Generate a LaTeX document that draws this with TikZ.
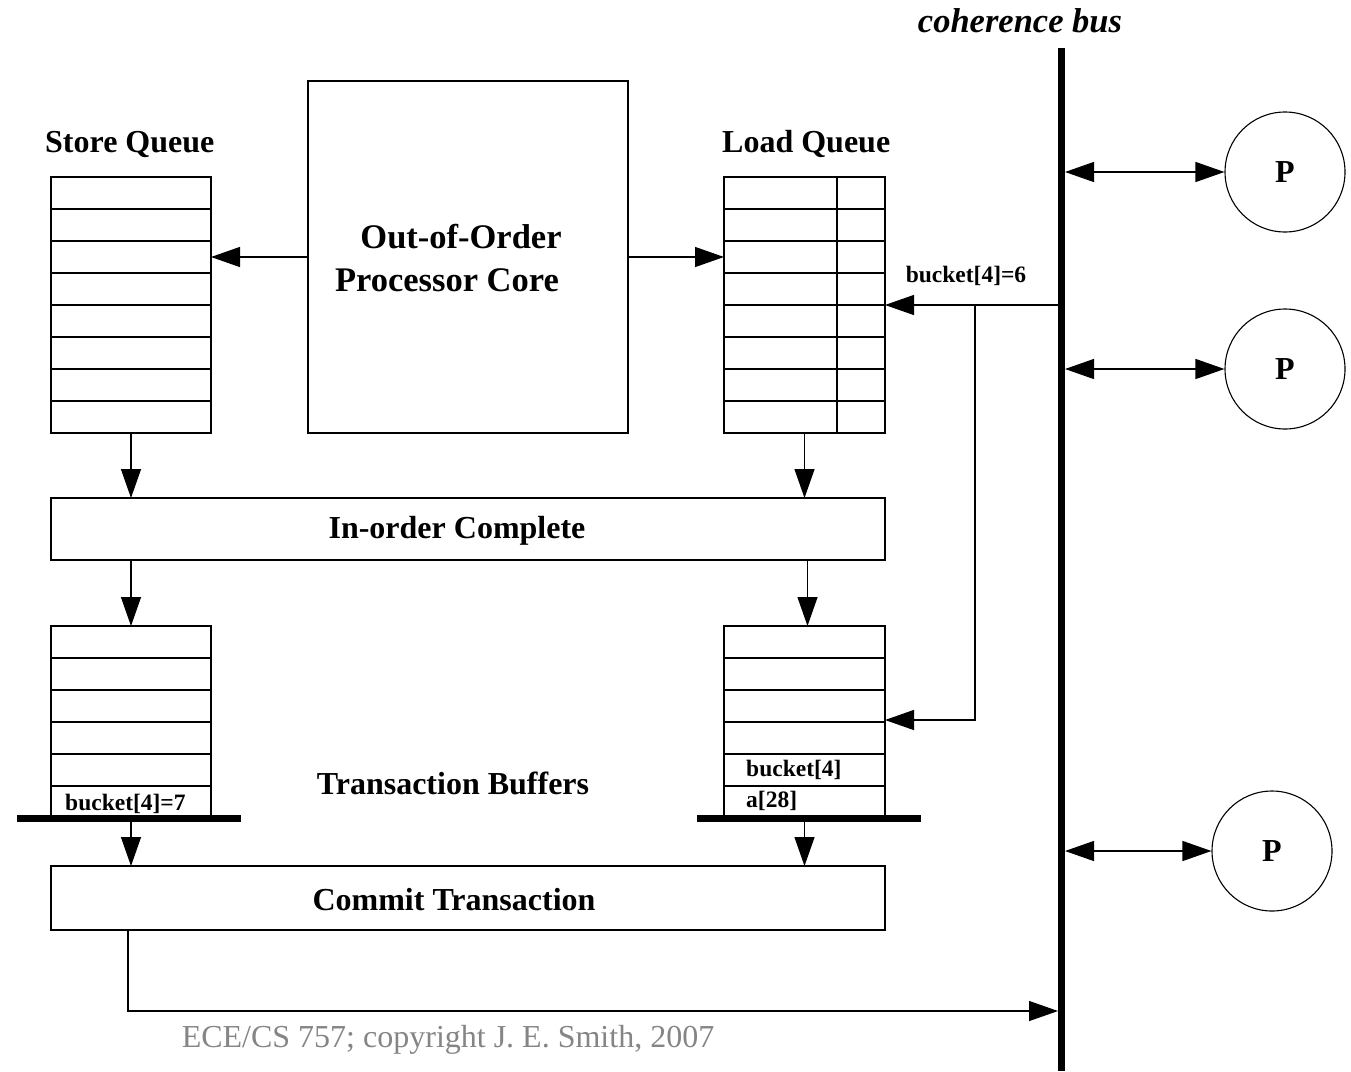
\documentclass[tikz,border=0pt]{standalone}
\usepackage{fontspec}
\setmainfont{Liberation Serif}
\usetikzlibrary{arrows.meta}
\begin{document}
\begin{tikzpicture}[x=1pt,y=-1pt,
  box/.style={draw, line width=1.3pt, inner sep=0pt, outer sep=0pt, anchor=north west, rectangle},
  row/.style={line width=1.3pt},
  arr/.style={-{Triangle[length=29pt,width=20pt]}, line width=1.3pt},
  darr/.style={{Triangle[length=29pt,width=20pt]}-{Triangle[length=29pt,width=20pt]}, line width=1.3pt},
  bar/.style={line width=7pt},
  big/.style={font=\bfseries\fontsize{32}{38}\selectfont, inner sep=0pt},
  core/.style={font=\bfseries\fontsize{34.5}{43}\selectfont, inner sep=0pt, align=center},
  small/.style={font=\bfseries\fontsize{23.5}{28}\selectfont, inner sep=0pt},
  proc/.style={draw, circle, line width=1.1pt, minimum size=120pt, inner sep=0pt, font=\bfseries\fontsize{32}{38}\selectfont},
]
\useasboundingbox (0,0) rectangle (1351,1071);

% titles
\node[font=\bfseries\itshape\fontsize{34.5}{40}\selectfont, inner sep=0pt] (bustitle) at (1020,21) {coherence bus};
\node[big, anchor=base west] (sqt) at (45,152) {Store Queue};
\node[big, anchor=base west] (lqt) at (722,152) {Load Queue};

% core
\node[box, minimum width=320pt, minimum height=352pt] (core) at (308,81) {};
\node[core] (coretxt) at (454,258) {\hspace*{14pt}Out-of-Order\\Processor Core\hspace*{14pt}};

% store queue
\node[box, minimum width=160pt, minimum height=256pt] (sq) at (51,177) {};
\foreach \y in {209,241,273,305,337,369,401} \draw[row] (51,\y) -- (211,\y);

% load queue
\node[box, minimum width=161pt, minimum height=256pt] (lq) at (724,177) {};
\foreach \y in {209,241,273,305,337,369,401} \draw[row] (724,\y) -- (885,\y);
\draw[row] (837,177) -- (837,433);

% in-order complete
\node[box, minimum width=834pt, minimum height=62pt] (ioc) at (51,498) {};
\node[big] (ioctxt) at (457,531) {In-order Complete};

% transaction buffers
\node[box, minimum width=160pt, minimum height=192pt] (tbl) at (51,626) {};
\foreach \y in {658,690,722,754,786} \draw[row] (51,\y) -- (211,\y);
\node[box, minimum width=161pt, minimum height=192pt] (tbr) at (724,626) {};
\foreach \y in {658,690,722,754,786} \draw[row] (724,\y) -- (885,\y);
\node[small, anchor=base west] (b7) at (65,810) {bucket[4]=7};
\node[small, anchor=base west] (b4) at (746,776) {bucket[4]};
\node[small, anchor=base west] (a28) at (746,807) {a[28]};
\node[big] (tbtxt) at (453,783) {Transaction Buffers};
\coordinate (barlA) at (17,818); \coordinate (barlB) at (241,818);
\coordinate (barrA) at (697,818); \coordinate (barrB) at (921,818);
\draw[bar] (barlA) -- (barlB);
\draw[bar] (barrA) -- (barrB);

% commit
\node[box, minimum width=834pt, minimum height=64pt] (cmt) at (51,866) {};
\node[big] (cmttxt) at (454,900) {Commit Transaction};

% bus
\coordinate (busT) at (1061,48);
\coordinate (busB) at (1061,1071);
\draw[line width=7pt] (busT) -- (busB);

% processors
\node[proc] (p1) at (1285,172) {P};
\node[proc] (p2) at (1285,369) {P};
\node[proc] (p3) at (1272,851) {P};
\coordinate (bp1) at (1065,172);
\coordinate (bp2) at (1065,369);
\coordinate (bp3) at (1065,851);
\draw[darr] (bp1) -- (p1.west);
\draw[darr] (bp2) -- (p2.west);
\draw[darr] (bp3) -- (p3.west);

% core to queues
\draw[arr] (core.west) -- (core.west -| sq.east);
\draw[arr] (core.east) -- (core.east -| lq.west);

% bucket broadcast
\coordinate (bsrc) at (1058,305);
\coordinate (bsplit) at (975,305);
\coordinate (bdown) at (975,720);
\node[small, anchor=base] (b6) at (966,282) {bucket[4]=6};
\draw[arr] (bsrc) -- (lq.east);
\draw[arr] (bsplit) -- (bdown) -- (bdown -| tbr.east);

% vertical flow
\draw[arr] (sq.south) -- (sq.south |- ioc.north);
\draw[arr] (lq.south) -- (lq.south |- ioc.north);
\draw[arr] (ioc.south -| sq.south) -- (tbl.north);
\draw[arr] ([xshift=3pt]ioc.south -| tbr.south) -- ([xshift=3pt]tbr.north);
\draw[arr] ([yshift=3.5pt]barlA -| sq.south) -- (cmt.north -| sq.south);
\draw[arr] ([yshift=3.5pt]barrA -| tbr.south) -- (cmt.north -| tbr.south);

% commit to bus
\coordinate (cstart) at (128,930);
\coordinate (cbus) at (1058,1011);
\draw[arr] (cstart) |- (cbus);

\node[font=\fontsize{32}{38}\selectfont, text=black!48, inner sep=0pt, anchor=base] (copy) at (448,1047) {ECE/CS 757; copyright J. E. Smith, 2007};
\end{tikzpicture}
\end{document}
